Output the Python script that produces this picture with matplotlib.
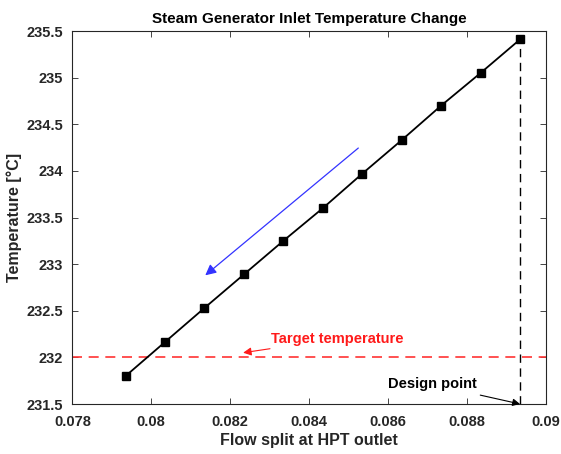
import matplotlib
matplotlib.use("Agg")
import matplotlib.pyplot as plt

plt.rcParams["font.family"] = ["Liberation Sans", "DejaVu Sans"]
plt.rcParams["font.weight"] = "bold"

# data
flow_split = [0.07935, 0.08035, 0.08135, 0.08235, 0.08335, 0.08435,
              0.08535, 0.08635, 0.08735, 0.08835, 0.08935]
temperature = [231.80, 232.165, 232.53, 232.89, 233.25, 233.60,
               233.97, 234.33, 234.70, 235.05, 235.41]
target_temp = 232.0
design_split = 0.08935
design_temp = 235.41

xticks = [0.078, 0.08, 0.082, 0.084, 0.086, 0.088, 0.09]
xticklabels = ["0.078", "0.08", "0.082", "0.084", "0.086", "0.088", "0.09"]
yticks = [231.5, 232, 232.5, 233, 233.5, 234, 234.5, 235, 235.5]
yticklabels = ["231.5", "232", "232.5", "233", "233.5", "234", "234.5", "235", "235.5"]

tick_color = "#262626"

fig = plt.figure(figsize=(5.61, 4.54), dpi=100)
ax = fig.add_axes([0.1289, 0.1101, 0.8438, 0.8216])

ax.plot(flow_split, temperature, "k-", lw=1.3, marker="s", markersize=5.5,
        markerfacecolor="k", zorder=3)
ax.axhline(target_temp, color="#ff3333", ls=(0, (6, 4)), lw=1.2)
ax.plot([design_split, design_split], [231.5, design_temp], color="k",
        ls=(0, (6, 4)), lw=1.0)

# trend arrow
ax.annotate("", xy=(0.08137, 232.88), xytext=(0.08525, 234.245),
            arrowprops=dict(arrowstyle="-|>", color="#3333ff", lw=0.9,
                            mutation_scale=16, shrinkA=0, shrinkB=0))

ax.annotate("Target temperature", xy=(0.08233, 232.05), xytext=(0.08303, 232.20),
            color="#ff1a1a", fontsize=10.5, fontweight="bold", va="center",
            arrowprops=dict(arrowstyle="-|>", color="#ff1a1a", lw=0.8,
                            mutation_scale=12, shrinkA=1, shrinkB=0))

ax.annotate("Design point", xy=(design_split, 231.5), xytext=(0.08713, 231.71),
            color="k", fontsize=10.5, fontweight="bold", ha="center", va="center",
            arrowprops=dict(arrowstyle="-|>", color="k", lw=0.8,
                            mutation_scale=11, shrinkA=3, shrinkB=0))

ax.set_xlim(0.078, 0.09)
ax.set_ylim(231.5, 235.5)
ax.set_xticks(xticks)
ax.set_xticklabels(xticklabels)
ax.set_yticks(yticks)
ax.set_yticklabels(yticklabels)
ax.tick_params(direction="in", top=True, right=True, length=4, width=0.6,
               labelsize=10.5, colors=tick_color, labelcolor=tick_color)
ax.tick_params(axis="x", pad=8)
ax.tick_params(axis="y", pad=6.5)
for lab in ax.get_xticklabels() + ax.get_yticklabels():
    lab.set_fontweight("bold")
for sp in ax.spines.values():
    sp.set_color(tick_color)
    sp.set_linewidth(0.8)

ax.set_xlabel("Flow split at HPT outlet", fontsize=11.5, fontweight="bold",
              color=tick_color, labelpad=3)
ax.set_ylabel("Temperature [°C]", fontsize=11.5, fontweight="bold",
              color=tick_color, labelpad=3)
ax.set_title("Steam Generator Inlet Temperature Change", fontsize=11,
             fontweight="bold", color="k")

fig.savefig("out.png", dpi=100)
